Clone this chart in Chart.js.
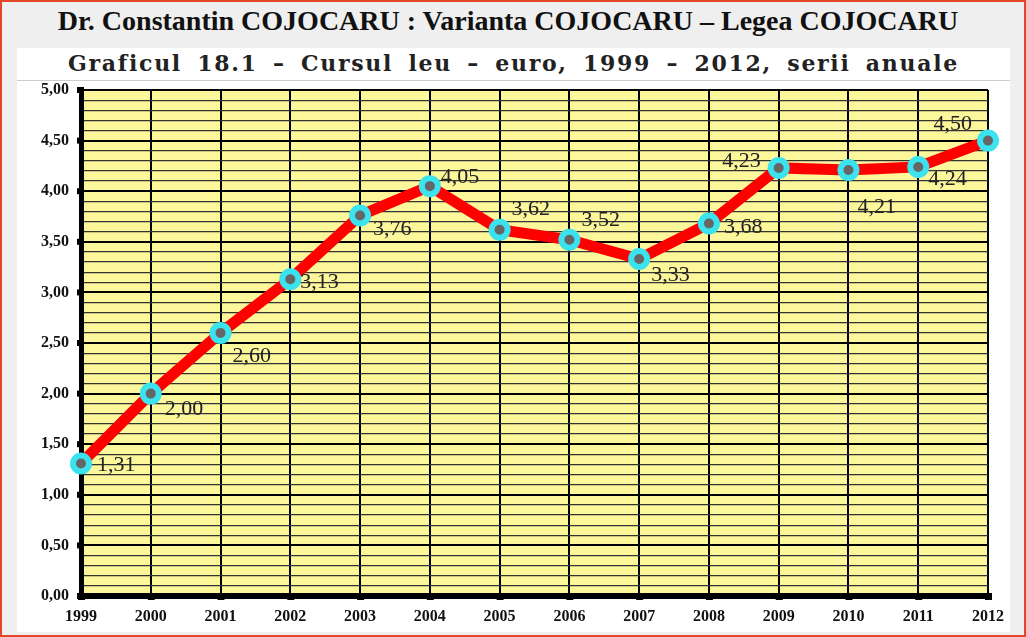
<!DOCTYPE html>
<html>
<head>
<meta charset="utf-8">
<script src="https://cdn.jsdelivr.net/npm/chart.js@4/dist/chart.umd.min.js"></script>
<style>
  html, body { margin: 0; padding: 0; }
  body { width: 1026px; height: 637px; position: relative; overflow: hidden; background: #efefef; }
  #frame { position: absolute; left: 0; top: 0; width: 1022px; height: 633px; border: 2px solid #e2472a; }
  #panel { position: absolute; left: 17px; top: 48px; width: 993px; height: 584px; background: #fff; }
  #title { position: absolute; left: 0; top: 5px; width: 1016px; text-align: center;
    font: bold 28px "Liberation Serif", serif; color: #111; }
  #subtitle { position: absolute; left: 17px; top: 50px; width: 993px; text-align: center;
    font: bold 22px "DejaVu Serif", serif; letter-spacing: 1.7px; word-spacing: 6px; color: #222; }
  #rule { position: absolute; left: 17px; top: 80px; width: 993px; height: 1px; background: #ccc; }
  #wrap { position: absolute; left: 0; top: 0; width: 1026px; height: 637px; }
</style>
</head>
<body>
<div id="frame"></div>
<div id="panel"></div>
<div id="title">Dr. Constantin COJOCARU : Varianta COJOCARU – Legea COJOCARU</div>
<div id="subtitle">Graficul 18.1 – Cursul leu – euro, 1999 – 2012, serii anuale</div>
<div id="rule"></div>
<div id="wrap"><canvas id="chart" width="1026" height="637"></canvas></div>
<script>
const years = ['1999', '2000', '2001', '2002', '2003', '2004', '2005',
  '2006', '2007', '2008', '2009', '2010', '2011', '2012']
const rates = [1.31, 2.0, 2.6, 3.13, 3.76, 4.05, 3.62, 3.52, 3.33, 3.68, 4.23, 4.21, 4.24, 4.5]
const yMin = 0
const yMax = 5
// where each value label sits relative to its point: [dx, dy, align]
const labelOffsets = [
  [16, 2, 'left'], [14, 16, 'left'], [12, 23, 'left'], [10, 3, 'left'],
  [13, 14, 'left'], [11, -9, 'left'], [12, -20, 'left'], [12, -20, 'left'],
  [12, 16, 'left'], [15, 4, 'left'], [-18, -7, 'right'], [9, 37, 'left'],
  [10, 12, 'left'], [-16, -16, 'right'],
]

const fmt = (v) => v.toFixed(2).replace('.', ',')
const isMajor = (v) => Math.abs(v * 2 - Math.round(v * 2)) < 1e-6

const plotBackground = {
  id: 'plotBackground',
  beforeDraw: (chart) => {
    const { ctx, chartArea: a } = chart
    ctx.save()
    ctx.fillStyle = '#fdf79c'
    ctx.fillRect(a.left, a.top, a.right - a.left, a.bottom - a.top)
    ctx.restore()
  },
}

const axisDots = {
  id: 'axisDots',
  afterDraw: (chart) => {
    const { ctx, scales } = chart
    ctx.save()
    ctx.fillStyle = '#000'
    scales.y.ticks.forEach((t) => {
      if (!isMajor(t.value)) return
      const y = scales.y.getPixelForValue(t.value)
      ctx.fillRect(scales.y.right - 4, y - 3, 7, 6)
    })
    years.forEach((_, i) => {
      const x = scales.x.getPixelForValue(i)
      ctx.fillRect(x - 3, scales.x.top - 3, 7, 7)
    })
    ctx.restore()
  },
}

const valueLabels = {
  id: 'valueLabels',
  afterDatasetsDraw: (chart) => {
    const { ctx } = chart
    const meta = chart.getDatasetMeta(0)
    ctx.save()
    ctx.font = '22px "Liberation Serif", serif'
    ctx.fillStyle = '#222'
    ctx.textBaseline = 'middle'
    meta.data.forEach((pt, i) => {
      const [dx, dy, align] = labelOffsets[i]
      ctx.textAlign = align
      ctx.fillText(fmt(rates[i]), pt.x + dx, pt.y + dy)
    })
    ctx.restore()
  },
}

new Chart(document.getElementById('chart'), {
  type: 'line',
  data: {
    labels: years,
    datasets: [
      {
        data: rates,
        borderColor: '#ff0000',
        borderWidth: 11,
        pointRadius: 8,
        pointBorderWidth: 6,
        pointBackgroundColor: '#666',
        pointBorderColor: '#3be3ef',
        tension: 0,
      },
    ],
  },
  options: {
    responsive: false,
    animation: false,
    devicePixelRatio: 1,
    layout: { padding: { top: 90, right: 38, left: 0, bottom: 0 } },
    plugins: { legend: { display: false }, tooltip: { enabled: false } },
    scales: {
      x: {
        offset: false,
        grid: { color: '#000', lineWidth: 2, drawTicks: false },
        border: { color: '#000', width: 6 },
        ticks: {
          color: '#111',
          padding: 11,
          font: { family: 'Liberation Serif', weight: 'bold', size: 16 },
        },
        afterFit: (s) => { s.height = 41 },
      },
      y: {
        min: yMin,
        max: yMax,
        grid: {
          drawTicks: false,
          color: (c) => (isMajor(c.tick.value) ? '#000' : '#333'),
          lineWidth: (c) => (isMajor(c.tick.value) ? 2 : 1.2),
        },
        border: { color: '#000', width: 5 },
        ticks: {
          stepSize: 0.1,
          autoSkip: false,
          color: '#111',
          padding: 12,
          font: { family: 'Liberation Serif', weight: 'bold', size: 16 },
          callback: (v) => (isMajor(v) ? fmt(v) : ''),
        },
        afterFit: (s) => { s.width = 81 },
      },
    },
  },
  plugins: [plotBackground, axisDots, valueLabels],
})
</script>
</body>
</html>
